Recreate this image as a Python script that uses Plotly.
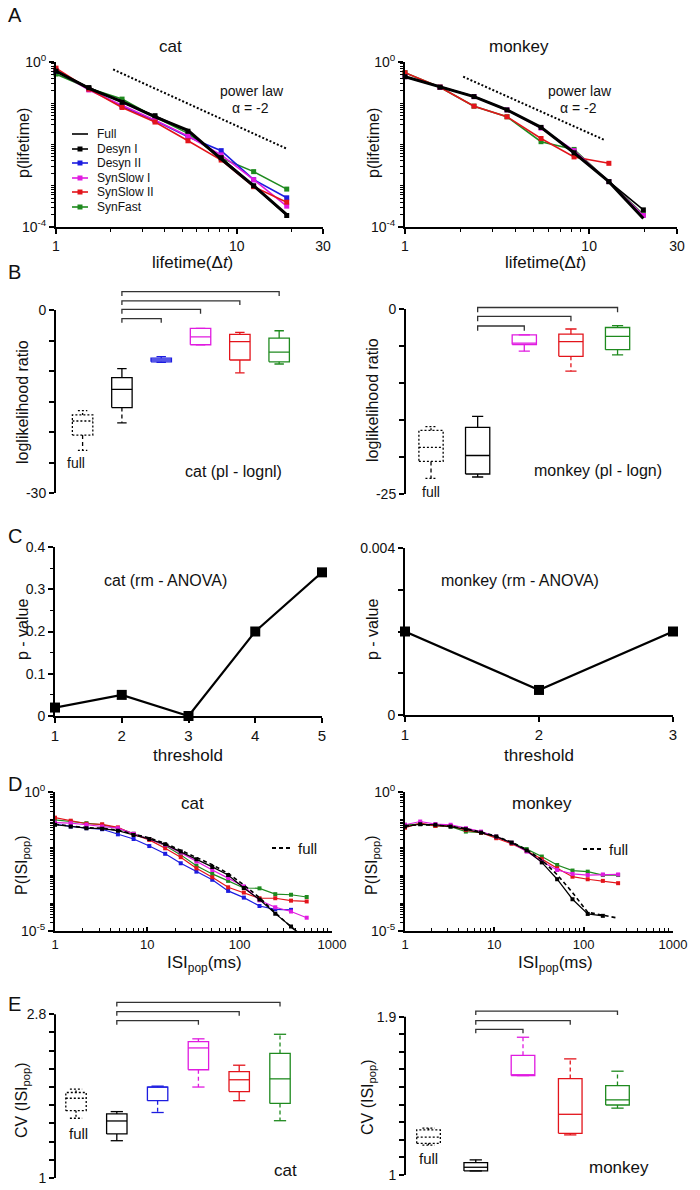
import math
import plotly.graph_objects as go

# ---------------- data ----------------
series_names = ["Full", "Desyn I", "Desyn II", "SynSlow I", "SynSlow II", "SynFast"]

# Panel A: lifetime distributions
cat_life_x = [1, 1.52, 2.32, 3.53, 5.37, 8.2, 12.4, 18.9]
cat_life_full = [0.60, 0.23, 0.11, 0.047, 0.022, 0.0044, 0.0010, 2.0e-4]
cat_life_desyn1 = [0.60, 0.24, 0.105, 0.050, 0.021, 0.0048, 0.0010, 1.9e-4]
cat_life_desyn2 = [0.60, 0.22, 0.083, 0.038, 0.0155, 0.0071, 0.0014, 5.1e-4]
cat_life_synslow1 = [0.63, 0.21, 0.089, 0.039, 0.016, 0.0056, 0.0014, 3.2e-4]
cat_life_synslow2 = [0.71, 0.22, 0.079, 0.035, 0.0123, 0.0042, 9.5e-4, 4.0e-4]
cat_life_synfast = [0.51, 0.23, 0.126, 0.046, 0.0186, 0.0047, 0.0022, 8.3e-4]

monkey_life_x = [1, 1.55, 2.37, 3.58, 5.48, 8.28, 12.8, 19.7]
monkey_life_full = [0.44, 0.245, 0.145, 0.069, 0.026, 0.0063, 0.00126, 1.6e-4]
monkey_life_desyn1 = [0.44, 0.245, 0.145, 0.069, 0.026, 0.0063, 0.00126, 2.6e-4]
monkey_life_synslow1 = [0.44, 0.245, 0.145, 0.069, 0.025, 0.0071, 0.00126, 1.9e-4]
monkey_life_synslow2 = [0.55, 0.245, 0.085, 0.047, 0.014, 0.0050, 0.0035]
monkey_life_synfast = [0.55, 0.245, 0.085, 0.047, 0.0117, 0.0076, 0.00126, 2.0e-4]

powerlaw_cat_x = [2.07, 18.9]
powerlaw_cat_y = [0.66, 0.0079]
powerlaw_monkey_x = [2.07, 12.2]
powerlaw_monkey_y = [0.44, 0.0127]

# Panel B: loglikelihood ratio boxes (whisker low, q1, median, q3, whisker high)
cat_ll_groups = ["full", "Desyn I", "Desyn II", "SynSlow I", "SynSlow II", "SynFast"]
cat_ll_wlo = [-23.0, -18.5, -8.6, -5.7, -10.3, -8.85]
cat_ll_q1 = [-20.5, -16.0, -8.5, -5.7, -8.2, -8.5]
cat_ll_med = [-18.2, -13.0, -8.2, -4.4, -5.2, -6.9]
cat_ll_q3 = [-17.2, -11.1, -7.9, -3.0, -4.0, -4.6]
cat_ll_whi = [-16.5, -9.6, -7.65, -3.0, -3.66, -3.4]
cat_ll_brackets_to = [3, 4, 5, 6]
cat_ll_bracket_lvl = [-1.4, 0.1, 1.5, 3.0]

monkey_ll_groups = ["full", "Desyn I", "SynSlow I", "SynSlow II", "SynFast"]
monkey_ll_wlo = [-22.9, -22.7, -5.7, -8.4, -6.2]
monkey_ll_q1 = [-20.6, -22.3, -4.8, -6.4, -5.5]
monkey_ll_med = [-18.7, -19.8, -4.6, -4.4, -3.7]
monkey_ll_q3 = [-16.4, -16.0, -3.5, -3.4, -2.5]
monkey_ll_whi = [-15.9, -14.5, -3.5, -2.7, -2.25]
monkey_ll_brackets_to = [3, 4, 5]
monkey_ll_bracket_lvl = [-2.3, -1.0, 0.2]

# Panel C: rm-ANOVA p-values
cat_threshold = [1, 2, 3, 4, 5]
cat_pvalue = [0.02, 0.05, 0.0, 0.2, 0.34]
monkey_threshold = [1, 2, 3]
monkey_pvalue = [0.002, 0.0006, 0.002]

# Panel D: population ISI distributions
isi_x = [1, 1.48, 2.19, 3.24, 4.8, 7.1, 10.5, 15.6, 23, 34, 50.5, 75, 111, 164, 243, 360, 532]
cat_isi_full = [0.068, 0.0575, 0.051, 0.049, 0.042, 0.030, 0.022, 0.0141, 0.0079, 0.0044, 0.0024,
                0.00117, 4.5e-4, 1.58e-4, 4.5e-5, 1.41e-5, 5.0e-6]
cat_isi_desyn1 = [0.065, 0.056, 0.049, 0.047, 0.040, 0.028, 0.020, 0.0129, 0.0071, 0.0038, 0.0020,
                  0.00102, 3.5e-4, 1.35e-4, 4.2e-5, 1.45e-5, 5.0e-6]
cat_isi_desyn2 = [0.068, 0.056, 0.049, 0.045, 0.0295, 0.020, 0.0112, 0.0059, 0.0027, 0.00135, 6.9e-4,
                  2.75e-4, 1.58e-4, 7.9e-5, 6.0e-5, 5.75e-5]
cat_isi_synslow1 = [0.078, 0.074, 0.065, 0.056, 0.049, 0.031, 0.020, 0.0123, 0.0065, 0.0031, 0.00155,
                    7.9e-4, 4.0e-4, 1.26e-4, 7.1e-5, 5.0e-5, 3.0e-5]
cat_isi_synslow2 = [0.117, 0.091, 0.0708, 0.0676, 0.0525, 0.0295, 0.0186, 0.0093, 0.00447, 0.00178,
                    8.5e-4, 3.7e-4, 2.4e-4, 1.5e-4, 1.5e-4, 1.23e-4, 1.15e-4]
cat_isi_synfast = [0.098, 0.085, 0.074, 0.065, 0.049, 0.031, 0.020, 0.0117, 0.0054, 0.0022, 0.00112,
                   6.3e-4, 3.5e-4, 3.4e-4, 2.1e-4, 2.0e-4, 1.66e-4]

monkey_isi_full = [0.060, 0.065, 0.063, 0.0575, 0.047, 0.0355, 0.025, 0.0155, 0.0083, 0.00355, 0.00105,
                   2.4e-4, 4.7e-5, 3.6e-5, 2.9e-5]
monkey_isi_desyn1 = [0.056, 0.068, 0.065, 0.056, 0.045, 0.034, 0.0245, 0.0148, 0.0078, 0.0029, 7.2e-4,
                     1.38e-4, 4.1e-5, 3.5e-5]
monkey_isi_synslow1 = [0.065, 0.085, 0.069, 0.065, 0.049, 0.037, 0.0245, 0.0148, 0.0071, 0.0031,
                       0.00155, 0.00112, 0.00102, 0.00107, 0.00107]
monkey_isi_synslow2 = [0.051, 0.074, 0.059, 0.059, 0.042, 0.034, 0.0214, 0.0135, 0.0074, 0.0038,
                       0.00178, 8.9e-4, 7.2e-4, 6.3e-4, 5.2e-4]
monkey_isi_synfast = [0.065, 0.069, 0.059, 0.056, 0.037, 0.034, 0.0245, 0.0148, 0.0087, 0.0047,
                      0.00234, 0.00148, 0.00135, 0.00102, 0.00102]

# Panel E: CV(ISI_pop) boxes
cat_cv_wlo = [1.657, 1.41, 1.72, 2.0, 1.85, 1.63]
cat_cv_q1 = [1.74, 1.485, 1.85, 2.19, 1.95, 1.82]
cat_cv_med = [1.877, 1.627, 2.0, 2.43, 2.08, 2.09]
cat_cv_q3 = [1.94, 1.704, 2.0, 2.5, 2.17, 2.37]
cat_cv_whi = [1.976, 1.73, 2.01, 2.53, 2.24, 2.58]
cat_cv_brackets_to = [4, 5, 6]
cat_cv_bracket_lvl = [2.73, 2.83, 2.93]

monkey_cv_wlo = [1.17, 1.023, 1.565, 1.228, 1.38]
monkey_cv_q1 = [1.18, 1.023, 1.565, 1.237, 1.398]
monkey_cv_med = [1.215, 1.044, 1.57, 1.345, 1.427]
monkey_cv_q3 = [1.256, 1.07, 1.68, 1.548, 1.508]
monkey_cv_whi = [1.266, 1.086, 1.783, 1.66, 1.59]
monkey_cv_brackets_to = [3, 4, 5]
monkey_cv_bracket_lvl = [1.828, 1.877, 1.932]

# ---------------- styling ----------------
W, H = 700, 1190
FONT = "Liberation Sans, Arial, sans-serif"
TXT = "#111111"
COL = {"full": "black", "Full": "black", "Desyn I": "black", "Desyn II": "#1c1ce0",
       "SynSlow I": "#e01be0", "SynSlow II": "#e3141b", "SynFast": "#1f8a1f"}
DOT = "2px,2px"
DASH = "4px,3px"


def xd(a, b):
    return [a / W, b / W]


def yd(top, bot):
    return [1 - bot / H, 1 - top / H]


def minor_log(lo, hi, with_decades=False):
    ms = range(1, 10) if with_decades else range(2, 10)
    vals = [m * 10 ** k for k in range(lo, hi) for m in ms]
    return [v for v in vals if v != 10 ** lo]


AX = dict(showline=True, linecolor="black", linewidth=2, ticks="outside", ticklen=5, tickwidth=1.5,
          tickcolor="black", showgrid=False, zeroline=False,
          tickfont=dict(size=14, family=FONT, color=TXT))
MINOR = dict(ticks="outside", ticklen=3, tickwidth=1, tickcolor="black", showgrid=False)
MINOR_IN = dict(ticks="inside", ticklen=3, tickwidth=1, tickcolor="black", showgrid=False)
MINOR_L = dict(ticks="outside", ticklen=5, tickwidth=1.5, tickcolor="black", showgrid=False)

fig = go.Figure()
layout = {}
shapes = []
annotations = []


def ax(i, kind):
    return kind + ("" if i == 1 else str(i))


def axkey(i, kind):
    return kind + "axis" + ("" if i == 1 else str(i))


def ann(text, x, y, size=15, angle=0, xanchor="center", yanchor="middle"):
    annotations.append(dict(text=text, x=x / W, y=1 - y / H, xref="paper", yref="paper",
                            showarrow=False, textangle=angle, xanchor=xanchor, yanchor=yanchor,
                            font=dict(size=size, family=FONT, color=TXT)))


def series(i, x, y, color, width=1.6, msize=5, dash="solid", mode="lines+markers", clip=False):
    fig.add_trace(go.Scatter(x=x, y=y, mode=mode, xaxis=ax(i, "x"), yaxis=ax(i, "y"),
                             line=dict(color=color, width=width, dash=dash),
                             marker=dict(symbol="square", size=msize, color=color, line=dict(width=0)),
                             cliponaxis=clip, hoverinfo="skip"))


def seg(i, x, y, color, width=1.3, dash="solid"):
    fig.add_trace(go.Scatter(x=x, y=y, mode="lines", xaxis=ax(i, "x"), yaxis=ax(i, "y"),
                             line=dict(color=color, width=width, dash=dash), hoverinfo="skip"))


def box(i, xpos, wlo, q1, med, q3, whi, color, hw, cw, box_dash="solid", up_dash="solid",
        lo_dash="solid", cap_dash="solid"):
    seg(i, [xpos - hw, xpos + hw, xpos + hw, xpos - hw, xpos - hw], [q1, q1, q3, q3, q1], color, dash=box_dash)
    seg(i, [xpos - hw, xpos + hw], [med, med], color, dash=box_dash)
    if whi > q3:
        seg(i, [xpos, xpos], [q3, whi], color, dash=up_dash)
    seg(i, [xpos - cw, xpos + cw], [whi, whi], color, dash=cap_dash)
    if wlo < q1:
        seg(i, [xpos, xpos], [q1, wlo], color, dash=lo_dash)
    seg(i, [xpos - cw, xpos + cw], [wlo, wlo], color, dash=cap_dash)


def bracket(i, x0, x1, lvl, drop):
    seg(i, [x0, x0, x1, x1], [lvl - drop, lvl, lvl, lvl - drop], "#333333", width=1.3)


# ---------------- Panel A ----------------
a_xtick = dict(type="log", range=[0, math.log10(30)], tickvals=[1, 10, 30], ticktext=["1", "10", "30"],
               minor=dict(tickvals=minor_log(0, 1) + [20], **MINOR))
a_ytick = dict(type="log", range=[-4, 0], tickvals=[1e-4, 1],
               ticktext=["10<sup>-4</sup>", "10<sup>0</sup>"],
               minor=dict(tickvals=minor_log(-4, 0, True), **MINOR))
layout[axkey(1, "x")] = dict(AX, domain=xd(56, 323), anchor="y", **a_xtick)
layout[axkey(1, "y")] = dict(AX, domain=yd(62, 227), anchor="x", **a_ytick)
layout[axkey(2, "x")] = dict(AX, domain=xd(405, 677), anchor="y2", **a_xtick)
layout[axkey(2, "y")] = dict(AX, domain=yd(62, 227), anchor="x2", **a_ytick)

series(1, powerlaw_cat_x, powerlaw_cat_y, "black", width=2, dash="2px,2px", mode="lines")
series(1, cat_life_x, cat_life_synfast, COL["SynFast"])
series(1, cat_life_x, cat_life_desyn2, COL["Desyn II"])
series(1, cat_life_x, cat_life_synslow1, COL["SynSlow I"])
series(1, cat_life_x, cat_life_synslow2, COL["SynSlow II"])
series(1, cat_life_x, cat_life_full, "black", width=3, mode="lines")
series(1, cat_life_x, cat_life_desyn1, "black", width=1.6)

series(2, powerlaw_monkey_x, powerlaw_monkey_y, "black", width=2, dash="2px,2px", mode="lines")
series(2, monkey_life_x, monkey_life_synfast, COL["SynFast"])
series(2, monkey_life_x, monkey_life_synslow2, COL["SynSlow II"])
series(2, monkey_life_x, monkey_life_synslow1, COL["SynSlow I"])
series(2, monkey_life_x, monkey_life_full, "black", width=3, mode="lines")
series(2, monkey_life_x, monkey_life_desyn1, "black", width=1.6)

# legend (panel A, cat)
legend_y = [134, 149, 163, 178, 192, 207]
for name, ly in zip(series_names, legend_y):
    c = COL[name]
    shapes.append(dict(type="line", xref="paper", yref="paper", x0=72 / W, x1=88 / W,
                       y0=1 - ly / H, y1=1 - ly / H, line=dict(color=c, width=1.6)))
    if name != "Full":
        shapes.append(dict(type="rect", xref="paper", yref="paper", x0=77.5 / W, x1=82.5 / W,
                           y0=1 - (ly + 2.5) / H, y1=1 - (ly - 2.5) / H, fillcolor=c, line=dict(width=0)))
    ann(name, 95, ly, size=12, xanchor="left")

ann("A", 6, 15, size=20, xanchor="left")
ann("cat", 170, 47, size=17)
ann("monkey", 519, 47, size=17)
ann("power law", 252, 91, size=14)
ann("α = -2", 250, 108, size=14)
ann("power law", 580, 91, size=14)
ann("α = -2", 578, 108, size=14)
ann("p(lifetime)", 23, 143, size=16, angle=-90)
ann("p(lifetime)", 373, 143, size=16, angle=-90)
ann("lifetime(Δ<i>t</i>)", 193, 262, size=17)
ann("lifetime(Δ<i>t</i>)", 545, 262, size=17)

# ---------------- Panel B ----------------
layout[axkey(3, "x")] = dict(domain=xd(55, 300), range=[0.298, 6.53], visible=False, anchor="y3")
layout[axkey(3, "y")] = dict(AX, domain=yd(285.6, 493), range=[-30, 4], anchor="x3", showline=False,
                             tickvals=[-30, 0], ticktext=["-30", "0"],
                             minor=dict(tickvals=[-25, -20, -15, -10, -5], **MINOR_L))
layout[axkey(4, "x")] = dict(domain=xd(405, 660), range=[0.442, 5.91], visible=False, anchor="y4")
layout[axkey(4, "y")] = dict(AX, domain=yd(294.2, 494), range=[-25, 2], anchor="x4", showline=False,
                             tickvals=[-25, 0], ticktext=["-25", "0"],
                             minor=dict(tickvals=[-20, -15, -10, -5], **MINOR_L))
shapes.append(dict(type="line", xref="x3 domain", yref="y3", x0=0, x1=0, y0=-30, y1=0,
                   line=dict(color="black", width=2)))
shapes.append(dict(type="line", xref="x4 domain", yref="y4", x0=0, x1=0, y0=-25, y1=0,
                   line=dict(color="black", width=2)))

cat_ll_dash = [(DOT, DOT, DASH), ("solid", "solid", DASH), ("solid", "solid", "solid"),
               ("solid", "solid", "solid"), ("solid", "solid", "solid"), ("solid", "solid", "solid")]
for k, g in enumerate(cat_ll_groups):
    bd, ud, ld = cat_ll_dash[k]
    box(3, k + 1, cat_ll_wlo[k], cat_ll_q1[k], cat_ll_med[k], cat_ll_q3[k], cat_ll_whi[k], COL[g],
        0.26, 0.12, box_dash=bd, up_dash=ud, lo_dash=ld, cap_dash=(DOT if g == "full" else "solid"))
for t, lvl in zip(cat_ll_brackets_to, cat_ll_bracket_lvl):
    bracket(3, 2, t, lvl, 0.7)

mk_ll_dash = [(DOT, DOT, DASH), ("solid", "solid", "solid"), ("solid", "solid", "solid"),
              ("solid", "solid", DASH), ("solid", "solid", "solid")]
for k, g in enumerate(monkey_ll_groups):
    bd, ud, ld = mk_ll_dash[k]
    box(4, k + 1, monkey_ll_wlo[k], monkey_ll_q1[k], monkey_ll_med[k], monkey_ll_q3[k], monkey_ll_whi[k],
        COL[g], 0.26, 0.12, box_dash=bd, up_dash=ud, lo_dash=ld, cap_dash=(DOT if g == "full" else "solid"))
for t, lvl in zip(monkey_ll_brackets_to, monkey_ll_bracket_lvl):
    bracket(4, 2, t, lvl, 0.65)

ann("B", 6, 272, size=20, xanchor="left")
ann("full", 76, 463, size=14)
ann("cat (pl - lognl)", 233, 472, size=16)
ann("full", 431, 492, size=14)
ann("monkey (pl - logn)", 598, 471, size=16)
ann("loglikelihood ratio", 22, 402, size=16, angle=-90)
ann("loglikelihood ratio", 372, 400, size=16, angle=-90)

# ---------------- Panel C ----------------
layout[axkey(5, "x")] = dict(AX, domain=xd(55, 322), range=[1, 5], anchor="y5",
                             tickvals=[1, 2, 3, 4, 5], tickfont=dict(size=15, family=FONT, color=TXT))
layout[axkey(5, "y")] = dict(AX, domain=yd(547, 716), range=[0, 0.4], anchor="x5",
                             tickvals=[0, 0.1, 0.2, 0.3, 0.4], ticktext=["0", "0.1", "0.2", "0.3", "0.4"],
                             minor=dict(tickvals=[0.05, 0.15, 0.25, 0.35], **MINOR))
layout[axkey(6, "x")] = dict(AX, domain=xd(405, 673), range=[1, 3], anchor="y6",
                             tickvals=[1, 2, 3], tickfont=dict(size=15, family=FONT, color=TXT))
layout[axkey(6, "y")] = dict(AX, domain=yd(548, 715), range=[0, 0.004], anchor="x6",
                             tickvals=[0, 0.004], ticktext=["0", "0.004"],
                             minor=dict(tickvals=[0.001, 0.002, 0.003], **MINOR_L))
series(5, cat_threshold, cat_pvalue, "black", width=2.2, msize=10)
series(6, monkey_threshold, monkey_pvalue, "black", width=2.2, msize=10)

ann("C", 6, 536, size=20, xanchor="left")
ann("cat (rm - ANOVA)", 165, 580, size=16)
ann("monkey (rm - ANOVA)", 520, 580, size=16)
ann("p - value", 22, 630, size=16, angle=-90)
ann("p - value", 372, 630, size=16, angle=-90)
ann("threshold", 188, 755, size=17)
ann("threshold", 539, 755, size=17)

# ---------------- Panel D ----------------
d_xtick = dict(type="log", range=[0, 3], tickvals=[1, 10, 100, 1000], ticktext=["1", "10", "100", "1000"],
               ticks="inside", ticklen=4, tickfont=dict(size=13, family=FONT, color=TXT),
               minor=dict(tickvals=minor_log(0, 3), **MINOR_IN))
d_ytick = dict(type="log", range=[-5, 0], tickvals=[1e-5, 1],
               ticktext=["10<sup>-5</sup>", "10<sup>0</sup>"],
               minor=dict(tickvals=minor_log(-5, 0, True), **MINOR))
layout[axkey(7, "x")] = dict(AX, domain=xd(55, 332), anchor="y7", **{k: v for k, v in d_xtick.items()})
layout[axkey(7, "y")] = dict(AX, domain=yd(791.7, 931), anchor="x7", **d_ytick)
layout[axkey(8, "x")] = dict(AX, domain=xd(405, 673), anchor="y8", **{k: v for k, v in d_xtick.items()})
layout[axkey(8, "y")] = dict(AX, domain=yd(791.7, 931), anchor="x8", **d_ytick)
for key in (axkey(7, "x"), axkey(8, "x")):
    layout[key]["tickfont"] = dict(size=13, family=FONT, color=TXT)

series(7, isi_x[:len(cat_isi_desyn2)], cat_isi_desyn2, COL["Desyn II"], width=1.2, msize=4)
series(7, isi_x, cat_isi_synfast, COL["SynFast"], width=1.2, msize=4)
series(7, isi_x, cat_isi_synslow2, COL["SynSlow II"], width=1.2, msize=4)
series(7, isi_x, cat_isi_synslow1, COL["SynSlow I"], width=1.2, msize=4)
series(7, isi_x, cat_isi_full, "black", width=1.6, dash="4px,3px", mode="lines", clip=True)
series(7, isi_x, cat_isi_desyn1, "black", width=1.2, msize=4, clip=True)

series(8, isi_x[:len(monkey_isi_synfast)], monkey_isi_synfast, COL["SynFast"], width=1.2, msize=4)
series(8, isi_x[:len(monkey_isi_synslow2)], monkey_isi_synslow2, COL["SynSlow II"], width=1.2, msize=4)
series(8, isi_x[:len(monkey_isi_synslow1)], monkey_isi_synslow1, COL["SynSlow I"], width=1.2, msize=4)
series(8, isi_x[:len(monkey_isi_full)], monkey_isi_full, "black", width=1.6, dash="4px,3px", mode="lines")
series(8, isi_x[:len(monkey_isi_desyn1)], monkey_isi_desyn1, "black", width=1.2, msize=4)

for x0, x1, ly, tx in [(272, 292, 848, 296), (583, 603, 849, 607)]:
    shapes.append(dict(type="line", xref="paper", yref="paper", x0=x0 / W, x1=x1 / W,
                       y0=1 - ly / H, y1=1 - ly / H, line=dict(color="black", width=1.8, dash="4px,3px")))
    ann("full", tx, ly, size=15, xanchor="left")

ann("D", 6, 784, size=20, xanchor="left")
ann("cat", 193, 803, size=17)
ann("monkey", 542, 803, size=17)
ann("P(ISI<sub>pop</sub>)", 22, 865, size=16, angle=-90)
ann("P(ISI<sub>pop</sub>)", 372, 865, size=16, angle=-90)
ann("ISI<sub>pop</sub>(ms)", 204, 964, size=17)
ann("ISI<sub>pop</sub>(ms)", 555, 964, size=17)

# ---------------- Panel E ----------------
layout[axkey(9, "x")] = dict(domain=xd(55, 300), range=[0.485, 6.49], visible=False, anchor="y9")
layout[axkey(9, "y")] = dict(AX, domain=yd(997.9, 1178), range=[1, 2.98], anchor="x9", showline=False,
                             tickvals=[1, 2.8], ticktext=["1", "2.8"],
                             minor=dict(tickvals=[1.2, 1.4, 1.6, 1.8, 2.0, 2.2, 2.4, 2.6], **MINOR_L))
layout[axkey(10, "x")] = dict(domain=xd(405, 660), range=[0.502, 5.9], visible=False, anchor="y10")
layout[axkey(10, "y")] = dict(AX, domain=yd(1006.1, 1175), range=[1, 1.96], anchor="x10", showline=False,
                              tickvals=[1, 1.9], ticktext=["1", "1.9"],
                              minor=dict(tickvals=[1.1, 1.2, 1.3, 1.4, 1.5, 1.6, 1.7, 1.8], **MINOR_L))
shapes.append(dict(type="line", xref="x9 domain", yref="y9", x0=0, x1=0, y0=1, y1=2.8,
                   line=dict(color="black", width=2)))
shapes.append(dict(type="line", xref="x10 domain", yref="y10", x0=0, x1=0, y0=1, y1=1.9,
                   line=dict(color="black", width=2)))

cat_cv_dash = [(DOT, DOT, DOT), ("solid", "solid", "solid"), ("solid", "solid", DASH),
               ("solid", "solid", DASH), ("solid", "solid", "solid"), ("solid", DASH, DASH)]
for k, g in enumerate(cat_ll_groups):
    bd, ud, ld = cat_cv_dash[k]
    box(9, k + 1, cat_cv_wlo[k], cat_cv_q1[k], cat_cv_med[k], cat_cv_q3[k], cat_cv_whi[k], COL[g],
        0.25, 0.15, box_dash=bd, up_dash=ud, lo_dash=ld, cap_dash=(DOT if g == "full" else "solid"))
for t, lvl in zip(cat_cv_brackets_to, cat_cv_bracket_lvl):
    bracket(9, 2, t, lvl, 0.045)

mk_cv_dash = [(DOT, DOT, DOT), ("solid", "solid", "solid"), ("solid", DASH, "solid"),
              ("solid", DASH, "solid"), ("solid", DASH, "solid")]
for k, g in enumerate(monkey_ll_groups):
    bd, ud, ld = mk_cv_dash[k]
    box(10, k + 1, monkey_cv_wlo[k], monkey_cv_q1[k], monkey_cv_med[k], monkey_cv_q3[k], monkey_cv_whi[k],
        COL[g], 0.25, 0.13, box_dash=bd, up_dash=ud, lo_dash=ld, cap_dash=(DOT if g == "full" else "solid"))
for t, lvl in zip(monkey_cv_brackets_to, monkey_cv_bracket_lvl):
    bracket(10, 2, t, lvl, 0.023)

ann("E", 6, 1004, size=20, xanchor="left")
ann("full", 78, 1133, size=15)
ann("cat", 285, 1170, size=17)
ann("full", 428, 1158, size=15)
ann("monkey", 619, 1167, size=17)
ann("CV (ISI<sub>pop</sub>)", 22, 1100, size=16, angle=-90)
ann("CV (ISI<sub>pop</sub>)", 368, 1097, size=16, angle=-90)

fig.update_layout(width=W, height=H, margin=dict(l=0, r=0, t=0, b=0, pad=0, autoexpand=False),
                  paper_bgcolor="white", plot_bgcolor="white", showlegend=False,
                  font=dict(family=FONT, size=13, color=TXT),
                  shapes=shapes, annotations=annotations, **layout)
fig.write_html("out.html", config={"displayModeBar": False},
               post_script="document.body.style.margin='0px';document.body.style.overflow='hidden';")
